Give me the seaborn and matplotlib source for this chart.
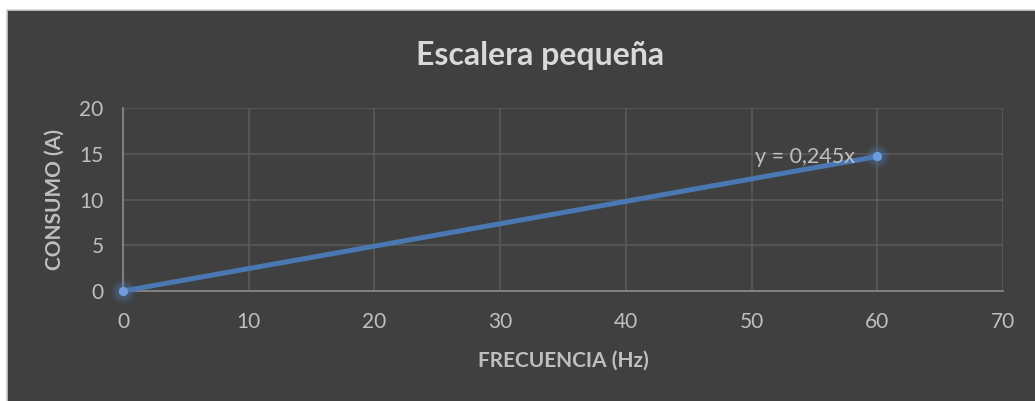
import matplotlib
matplotlib.use("Agg")
import matplotlib.pyplot as plt
import seaborn as sns
import pandas as pd
from matplotlib.patches import Rectangle
from matplotlib.lines import Line2D

# Data
frecuencia = [0, 60]
consumo = [0, 14.7]
x_ticks = [0, 10, 20, 30, 40, 50, 60, 70]
y_ticks = [0, 5, 10, 15, 20]
title = "Escalera pequeña"
xlabel = "FRECUENCIA (Hz)"
ylabel = "CONSUMO (A)"
trend_label = "y = 0,245x"

df = pd.DataFrame({"f": frecuencia, "c": consumo})

sns.set_theme(style="dark")
plt.rcParams['font.family'] = ['Lato', 'DejaVu Sans']

BG = "#404040"
TXT = "#bfbfbf"
GRID = "#595959"

fig = plt.figure(figsize=(10.35, 4.01), dpi=100)
fig.patch.set_facecolor("white")
W, H = 1035, 401
fig.add_artist(Rectangle((7 / W, 0), 1 - 7 / W, 1 - 10 / H, transform=fig.transFigure,
                         facecolor=BG, edgecolor="none", zorder=0))
fig.add_artist(Line2D([7 / W, 7 / W], [0, 1 - 10 / H], transform=fig.transFigure,
                      color="#d0d0d0", lw=1.2))
fig.add_artist(Line2D([7 / W, 1], [1 - 10 / H, 1 - 10 / H], transform=fig.transFigure,
                      color="#d0d0d0", lw=1.2))

ax = fig.add_axes([123 / W, 1 - 291 / H, (1003 - 123) / W, (291 - 108) / H])
ax.set_facecolor(BG)

# soft glow around markers
for ms, a in [(18, 0.08), (15, 0.12), (12, 0.18)]:
    ax.plot(frecuencia, consumo, linestyle="none", marker="o", markersize=ms,
            markeredgewidth=0, color="#4f81bd", alpha=a, zorder=3, clip_on=False)
sns.lineplot(data=df, x="f", y="c", ax=ax, color="#4a78b2", linewidth=3.6,
             marker="o", markersize=6, markerfacecolor="#6d9bdb",
             markeredgecolor="#6d9bdb", zorder=4)
for ln in ax.lines:
    ln.set_clip_on(False)

ax.set_xlim(0, 70)
ax.set_ylim(0, 20)
ax.set_xticks(x_ticks)
ax.set_yticks(y_ticks)
ax.grid(True, color=GRID, linewidth=1.2)
ax.tick_params(colors=TXT, labelsize=15, length=0)
ax.tick_params(axis="y", pad=14)
ax.tick_params(axis="x", pad=15)
for s in ["top", "right"]:
    ax.spines[s].set_visible(False)
for s in ["left", "bottom"]:
    ax.spines[s].set_visible(True)
    ax.spines[s].set_color("#8c8c8c")
    ax.spines[s].set_linewidth(1.2)

ax.set_xlabel("")
ax.set_ylabel("")
fig.text(563 / W, 1 - 361 / H, xlabel, ha="center", va="center", color=TXT,
         fontsize=15, fontweight="bold")
fig.text(55 / W, 1 - 200 / H, ylabel, ha="center", va="center", color=TXT,
         fontsize=15, fontweight="bold", rotation=90)
fig.text(540 / W, 1 - 55 / H, title, ha="center", va="center", color="#d9d9d9",
         fontsize=23, fontweight="bold")

ax.text(50.3, 14.6, trend_label, ha="left", va="center", color=TXT, fontsize=15.5,
        zorder=6)

fig.savefig("out.png", dpi=100, facecolor=fig.get_facecolor())
